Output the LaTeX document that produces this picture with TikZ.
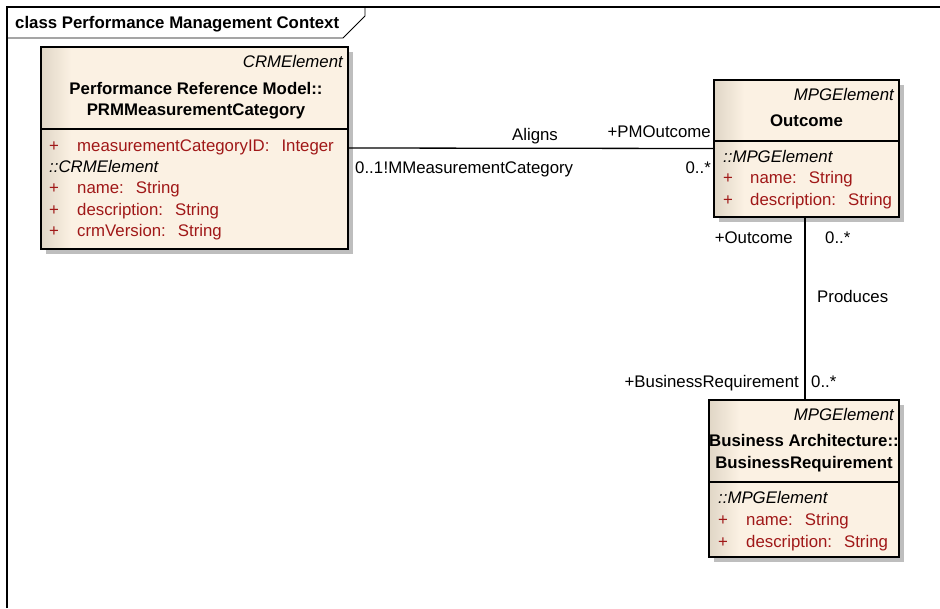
\documentclass[tikz,border=0pt]{standalone}
\usepackage{fontspec}
\setmainfont{Liberation Sans}
\usetikzlibrary{shadows}
\definecolor{boxlt}{HTML}{FBF1E3}
\definecolor{boxdk}{HTML}{E0D6C6}
\definecolor{attr}{HTML}{A01818}
\definecolor{shad}{HTML}{BEBEBE}
\newcommand\fs{\fontsize{16.8}{20}\selectfont}
\newcommand\gap{\hspace{12pt}}
\tikzset{
  umlbox/.style={draw=black, line width=1.3pt, fill=boxlt, rectangle, inner sep=0pt,
    drop shadow={shadow xshift=5pt, shadow yshift=-5pt, fill=shad, opacity=1},
    path picture={\foreach \i in {0,...,29}{
        \pgfmathsetmacro\pc{100-\i*100/30}
        \fill[boxdk!\pc!boxlt] ([xshift=\i pt]path picture bounding box.south west) rectangle ([xshift=\i pt+1.1pt]path picture bounding box.north west);}}},
  sepline/.style={line width=1.1pt},
  stereo/.style={font=\fs\itshape, inner sep=0pt, anchor=base east},
  cname/.style={font=\fs\bfseries, inner sep=0pt, anchor=base},
  attrtxt/.style={font=\fs, text=attr, inner sep=0pt, anchor=base west},
  inh/.style={font=\fs\itshape, inner sep=0pt, anchor=base west},
  conn/.style={line width=1.3pt},
  lbl/.style={font=\fs, inner sep=0pt},
}
\begin{document}
\begin{tikzpicture}[x=1pt,y=-1pt]
\useasboundingbox (0,0) rectangle (940,608);
% frame
\draw[line width=1.3pt] (7,608) -- (7,7) -- (940,7);
\draw[line width=0.9pt] (7,38) -- (343,38) -- (365,16) -- (365,7);
\node[font=\fs\bfseries, inner sep=0pt, anchor=base west] (title) at (15,28) {class Performance Management Context};

% PRM box
\node[umlbox, minimum width=307pt, minimum height=202pt] (prm) at (194.5,148) {};
\draw[sepline] (prm.west |- 0,129) -- (prm.east |- 0,129);
\node[stereo] (prmst) at (343,67) {CRMElement};
\node[cname] (prmn1) at (196,94) {Performance Reference Model::};
\node[cname] (prmn2) at (196,115) {PRMMeasurementCategory};
\node[attrtxt] (pa1p) at (49,151) {+};
\node[attrtxt] (pa1) at (77,151) {measurementCategoryID:\gap Integer};
\node[inh] (pinh) at (49,172) {::CRMElement};
\node[attrtxt] (pa2p) at (49,193) {+};
\node[attrtxt] (pa2) at (77,193) {name:\gap String};
\node[attrtxt] (pa3p) at (49,215) {+};
\node[attrtxt] (pa3) at (77,215) {description:\gap String};
\node[attrtxt] (pa4p) at (49,236) {+};
\node[attrtxt] (pa4) at (77,236) {crmVersion:\gap String};

% Outcome box
\node[umlbox, minimum width=185pt, minimum height=137pt] (out) at (806.5,148.5) {};
\draw[sepline] (out.west |- 0,141) -- (out.east |- 0,141);
\node[stereo] (outst) at (894,100) {MPGElement};
\node[cname] (outn) at (806.5,126) {Outcome};
\node[inh] (oinh) at (723,162) {::MPGElement};
\node[attrtxt] (oa1p) at (723,183) {+};
\node[attrtxt] (oa1) at (750,183) {name:\gap String};
\node[attrtxt] (oa2p) at (723,205) {+};
\node[attrtxt] (oa2) at (750,205) {description:\gap String};

% Business Requirement box
\node[umlbox, minimum width=190pt, minimum height=157pt] (br) at (804,478.5) {};
\draw[sepline] (br.west |- 0,482) -- (br.east |- 0,482);
\node[stereo] (brst) at (894,420) {MPGElement};
\node[cname] (brn1) at (804,446) {Business Architecture::};
\node[cname] (brn2) at (804,468) {BusinessRequirement};
\node[inh] (binh) at (718,503) {::MPGElement};
\node[attrtxt] (ba1p) at (718,525) {+};
\node[attrtxt] (ba1) at (746,525) {name:\gap String};
\node[attrtxt] (ba2p) at (718,547) {+};
\node[attrtxt] (ba2) at (746,547) {description:\gap String};

% connectors
\draw[conn] (prm.east) -- (out.west);
\draw[conn] (out.south -| 805,0) -- (br.north -| 805,0);

% labels Aligns
\node[lbl, anchor=base] (aligns) at (535,140) {Aligns};
\node[lbl, anchor=base east] (pmout) at (711,137) {+PMOutcome};
\node[lbl, anchor=base west] (m1) at (355,173) {0..1};
\node[lbl, anchor=base west] (prmrole) at (m1.base east) {!MMeasurementCategory};
\node[lbl, anchor=base east] (m2) at (711,173) {0..*};

% labels Produces
\node[lbl, anchor=base east] (outrole) at (793,243) {+Outcome};
\node[lbl, anchor=base west] (m3) at (825,243) {0..*};
\node[lbl, anchor=base west] (produces) at (817,302) {Produces};
\node[lbl, anchor=base east] (brrole) at (799,387) {+BusinessRequirement};
\node[lbl, anchor=base west] (m4) at (811,387) {0..*};
\end{tikzpicture}
\end{document}
